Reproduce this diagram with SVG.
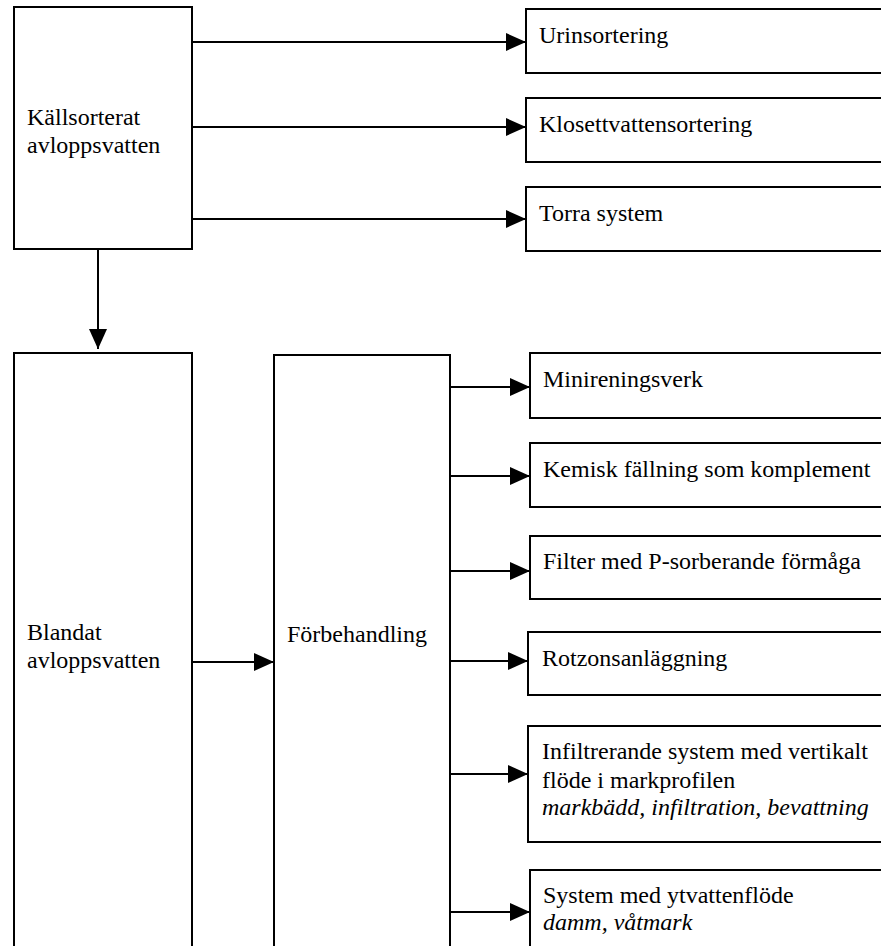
<svg xmlns="http://www.w3.org/2000/svg" width="881" height="946" viewBox="0 0 881 946">
<style>
.box{fill:#fff;stroke:#000;stroke-width:2}
.t{font-family:"Liberation Serif","Times New Roman",serif;font-size:24px;fill:#000}
.i{font-style:italic}
.c{stroke:#000;stroke-width:2;fill:none;marker-end:url(#ah)}
</style>
<defs>
<marker id="ah" markerUnits="userSpaceOnUse" markerWidth="20" markerHeight="18" refX="20" refY="9" orient="auto" viewBox="0 0 20 18">
<path d="M0,0 L20,9 L0,18 Z" fill="#000"/>
</marker>
</defs>
<rect width="881" height="946" fill="#fff"/>
<g id="connectors">
<line class="c" x1="192" y1="42" x2="526" y2="42"/>
<line class="c" x1="192" y1="127" x2="526" y2="127"/>
<line class="c" x1="192" y1="219" x2="526" y2="219"/>
<line class="c" x1="98" y1="249" x2="98" y2="349"/>
<line class="c" x1="192" y1="662" x2="274" y2="662"/>
<line class="c" x1="450" y1="387" x2="530" y2="387"/>
<line class="c" x1="450" y1="476" x2="530" y2="476"/>
<line class="c" x1="450" y1="571" x2="530" y2="571"/>
<line class="c" x1="450" y1="661" x2="528" y2="661"/>
<line class="c" x1="450" y1="774" x2="528" y2="774"/>
<line class="c" x1="450" y1="912" x2="530" y2="912"/>
</g>
<g id="kallsorterat">
<rect class="box" x="14" y="7" width="178" height="242"/>
<text class="t" x="27" y="125">Källsorterat</text>
<text class="t" x="27" y="153">avloppsvatten</text>
</g>
<g id="urinsortering">
<rect class="box" x="526" y="9" width="370" height="64"/>
<text class="t" x="539" y="43">Urinsortering</text>
</g>
<g id="klosett">
<rect class="box" x="526" y="98" width="370" height="64"/>
<text class="t" x="539" y="132">Klosettvattensortering</text>
</g>
<g id="torra">
<rect class="box" x="526" y="187" width="370" height="64"/>
<text class="t" x="539" y="221">Torra system</text>
</g>
<g id="blandat">
<rect class="box" x="14" y="353" width="178" height="620"/>
<text class="t" x="27" y="640">Blandat</text>
<text class="t" x="27" y="668">avloppsvatten</text>
</g>
<g id="forbehandling">
<rect class="box" x="274" y="355" width="176" height="620"/>
<text class="t" x="287" y="642">Förbehandling</text>
</g>
<g id="minirening">
<rect class="box" x="530" y="353" width="370" height="65"/>
<text class="t" x="543" y="387">Minireningsverk</text>
</g>
<g id="kemisk">
<rect class="box" x="530" y="443" width="370" height="64"/>
<text class="t" x="543" y="477">Kemisk fällning som komplement</text>
</g>
<g id="filter">
<rect class="box" x="530" y="536" width="370" height="63"/>
<text class="t" x="543" y="569">Filter med P-sorberande förmåga</text>
</g>
<g id="rotzon">
<rect class="box" x="528" y="632" width="370" height="63"/>
<text class="t" x="542" y="666">Rotzonsanläggning</text>
</g>
<g id="infiltrerande">
<rect class="box" x="528" y="726" width="370" height="116"/>
<text class="t" x="542" y="759">Infiltrerande system med vertikalt</text>
<text class="t" x="542" y="788">flöde i markprofilen</text>
<text class="t i" x="542" y="815">markbädd, infiltration, bevattning</text>
</g>
<g id="ytvatten">
<rect class="box" x="530" y="870" width="370" height="100"/>
<text class="t" x="543" y="903">System med ytvattenflöde</text>
<text class="t i" x="543" y="930">damm, våtmark</text>
</g>
</svg>
